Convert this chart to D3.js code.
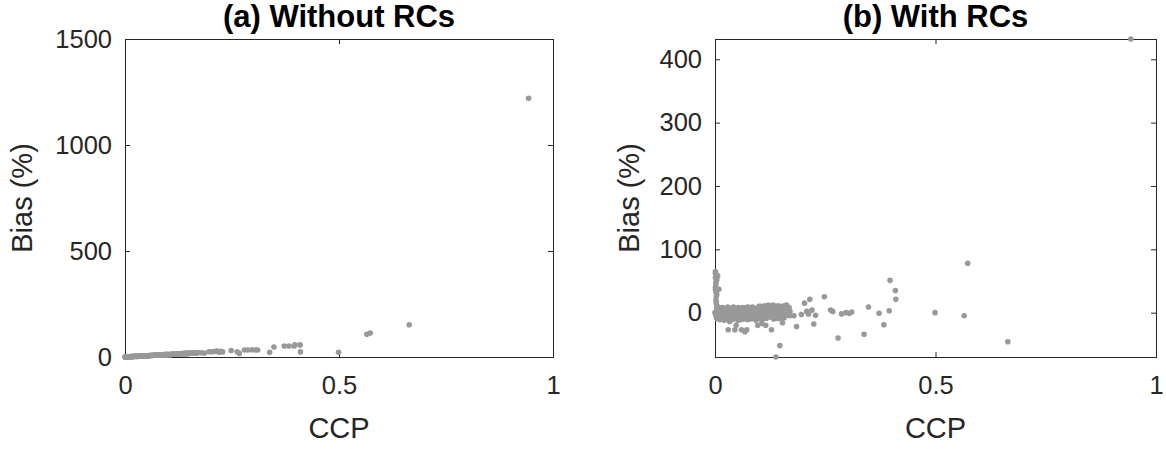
<!DOCTYPE html>
<html>
<head>
<meta charset="utf-8">
<script src="https://cdn.jsdelivr.net/npm/d3@7"></script>
<style>
  body { margin: 0; background: #fff; }
  svg { display: block; font-family: "Liberation Sans", Arial, Helvetica, sans-serif; }
</style>
</head>
<body>
<svg id="svg" width="1166" height="449"></svg>
<script>
// CCP of each case, shared by both panels
const ccp = [
  0.000, 0.001, 0.001, 0.002, 0.001, 0.002, 0.003, 0.002, 0.003, 0.004, 0.003, 0.002, 0.004, 0.009, 0.006, 0.001,
  0.006, 0.007, 0.008, 0.010, 0.011, 0.012, 0.014, 0.015, 0.016, 0.018, 0.019, 0.021, 0.022, 0.024, 0.025, 0.027,
  0.028, 0.030, 0.031, 0.033, 0.034, 0.036, 0.037, 0.039, 0.040, 0.042, 0.044, 0.045, 0.047, 0.049, 0.050, 0.052,
  0.054, 0.055, 0.057, 0.059, 0.060, 0.062, 0.064, 0.066, 0.067, 0.069, 0.071, 0.072, 0.074, 0.076, 0.078, 0.079,
  0.081, 0.083, 0.085, 0.086, 0.088, 0.090, 0.092, 0.093, 0.095, 0.097, 0.099, 0.101, 0.103, 0.104, 0.106, 0.108,
  0.110, 0.112, 0.114, 0.116, 0.118, 0.120, 0.122, 0.124, 0.126, 0.128, 0.130, 0.133, 0.135, 0.137, 0.140, 0.142,
  0.145, 0.147, 0.150, 0.153, 0.155, 0.158, 0.160, 0.163, 0.166, 0.168, 0.170,
  0.004, 0.002, 0.001, 0.004, 0.003, 0.005, 0.008, 0.013, 0.017, 0.023, 0.029, 0.035, 0.041, 0.046, 0.053, 0.058,
  0.063, 0.070, 0.075, 0.082, 0.087, 0.094, 0.100, 0.107, 0.111, 0.117, 0.121, 0.127, 0.132, 0.138, 0.143, 0.148,
  0.152, 0.157, 0.162, 0.167,
  0.030, 0.045, 0.048, 0.060, 0.068, 0.072, 0.097, 0.106, 0.115, 0.128, 0.147, 0.138, 0.142, 0.153, 0.160, 0.170,
  0.179, 0.185, 0.196, 0.203, 0.208, 0.212, 0.215, 0.220, 0.224, 0.228, 0.248, 0.262, 0.267, 0.279, 0.287, 0.297,
  0.305, 0.310, 0.338, 0.348, 0.372, 0.383, 0.395, 0.397, 0.409, 0.410, 0.499, 0.565, 0.573, 0.664, 0.943
];

// Bias (%) without rate constraints
const biasWithout = [
  0, 0, 0, 0, 0, 0, 0, 0, 0, 1, 0, 0, 1, 1, 1, 0,
  1, 1, 1, 1, 1, 2, 2, 2, 2, 2, 2, 3, 3, 3, 3, 3,
  3, 3, 4, 4, 4, 4, 4, 4, 5, 5, 5, 5, 5, 6, 6, 6,
  6, 6, 7, 7, 7, 7, 7, 8, 8, 8, 8, 8, 9, 9, 9, 9,
  9, 10, 10, 10, 10, 10, 11, 11, 11, 11, 11, 12, 12, 12, 12, 13,
  13, 13, 13, 13, 14, 14, 14, 14, 15, 15, 15, 16, 16, 16, 16, 17,
  17, 17, 18, 18, 18, 19, 19, 19, 20, 20, 21,
  0, 0, 0, 0, 0, 0, 1, 2, 2, 3, 3, 4, 5, 5, 6, 7,
  7, 8, 9, 9, 10, 11, 11, 12, 13, 14, 14, 15, 15, 16, 17, 17,
  18, 18, 19, 20,
  3, 5, 5, 7, 8, 8, 11, 12, 13, 15, 17, 16, 16, 18, 19, 20,
  20, 18, 25, 25, 26, 27, 28, 22, 27, 24, 31, 25, 17, 33, 33, 34,
  33, 33, 22, 47, 52, 52, 52, 57, 57, 24, 22, 107, 113, 152, 1220
];

// Bias (%) with rate constraints
const biasWith = [
  0, 62, 55, 48, 40, 33, 26, 20, 14, 8, 2, -5, -9, 37, 58, 65,
  -3, 4, -8, 1, -11, 6, -4, 2, -9, 5, -1, -12, 3, -6, 7, 0,
  -10, 4, -3, -14, 6, -7, 1, -11, 5, -2, 8, -9, 2, -5, 6, -12,
  0, 4, -8, 7, -3, 2, -10, 5, -1, -6, 8, 1, -11, 4, -4, 6,
  -8, 2, 9, -2, -7, 5, 0, -12, 7, -4, 3, -9, 10, 1, -5, 6,
  -2, 11, -8, 4, -1, 8, -6, 2, 10, -3, 5, -10, 0, 7, -5, 3,
  -2, 9, 1, -6, 4, 11, -3, 6, 0, 8, 2,
  52, 44, 36, 29, 17, -2, 9, -7, 8, -9, 9, -10, 9, -6, 8, -11,
  8, -9, 9, -10, 7, -8, 10, -11, 9, -9, 12, -7, 12, -8, 11, -9,
  10, -8, 12, -4,
  -27, -27, -20, -27, -30, -27, -20, -17, -20, -27, -52, -70, -9, -16, 8, -5,
  -5, -22, -3, 15, 2, -2, 21, 4, -18, -4, 25, 4, 2, -40, -2, 0,
  -1, 1, -34, 9, -1, -19, 3, 51, 35, 21, 0, -5, 78, -46, 432
];

const xTicks = [0, 0.5, 1];
const yTicksWithout = [0, 500, 1000, 1500];
const yTicksWith = [0, 100, 200, 300, 400];

const svg = d3.select("#svg");
const axisColor = "#262626";
const tickLen = 5;

const panels = [
  { title: "(a) Without RCs", left: 125, right: 553, top: 39, bottom: 357,
    yDomain: [0, 1500], yTicks: yTicksWithout, bias: biasWithout, labelX: 32 },
  { title: "(b) With RCs", left: 715, right: 1156, top: 39, bottom: 357,
    yDomain: d3.extent(biasWith), yTicks: yTicksWith, bias: biasWith, labelX: 639 }
];

panels.forEach((p) => {
  const x = d3.scaleLinear().domain([0, 1]).range([p.left, p.right]);
  const y = d3.scaleLinear().domain(p.yDomain).range([p.bottom, p.top]);
  const w = p.right - p.left;
  const h = p.bottom - p.top;

  const g = svg.append("g");

  // bottom and top axes, ticks point inwards
  const xb = g.append("g")
    .attr("transform", "translate(0," + p.bottom + ")")
    .call(d3.axisBottom(x).tickValues(xTicks).tickSize(-tickLen).tickPadding(19).tickFormat(d3.format("")));
  g.append("g")
    .attr("transform", "translate(0," + p.top + ")")
    .call(d3.axisTop(x).tickValues(xTicks).tickSize(-tickLen).tickFormat(""));

  // left and right axes
  g.append("g")
    .attr("transform", "translate(" + p.left + ",0)")
    .call(d3.axisLeft(y).tickValues(p.yTicks).tickSize(-tickLen).tickPadding(13).tickFormat(d3.format("")));
  g.append("g")
    .attr("transform", "translate(" + p.right + ",0)")
    .call(d3.axisRight(y).tickValues(p.yTicks).tickSize(-tickLen).tickFormat(""));

  g.selectAll(".domain").attr("stroke", axisColor).attr("stroke-width", 1);
  g.selectAll(".tick line").attr("stroke", axisColor).attr("stroke-width", 1);
  g.selectAll(".tick text").attr("fill", axisColor).style("font-size", "25.5px");
  xb.selectAll(".tick text").attr("dy", "0.71em");

  // axis labels
  g.append("text")
    .attr("x", p.left + w / 2)
    .attr("y", 438)
    .attr("text-anchor", "middle")
    .attr("fill", axisColor)
    .style("font-size", "29px")
    .text("CCP");

  g.append("text")
    .attr("transform", "translate(" + p.labelX + "," + (p.top + h / 2) + ") rotate(-90)")
    .attr("text-anchor", "middle")
    .attr("fill", axisColor)
    .style("font-size", "29px")
    .text("Bias (%)");

  // title
  g.append("text")
    .attr("x", p.left + w / 2)
    .attr("y", 27)
    .attr("text-anchor", "middle")
    .attr("fill", "#000")
    .style("font-size", "31px")
    .style("font-weight", "bold")
    .text(p.title);

  // points on top of the box, like MATLAB's default layer
  g.append("g")
    .selectAll("circle")
    .data(ccp.map((c, i) => [c, p.bias[i]]))
    .join("circle")
    .attr("cx", (d) => x(d[0]))
    .attr("cy", (d) => y(d[1]))
    .attr("r", 2.8)
    .attr("fill", "#999999");
});
</script>
</body>
</html>
